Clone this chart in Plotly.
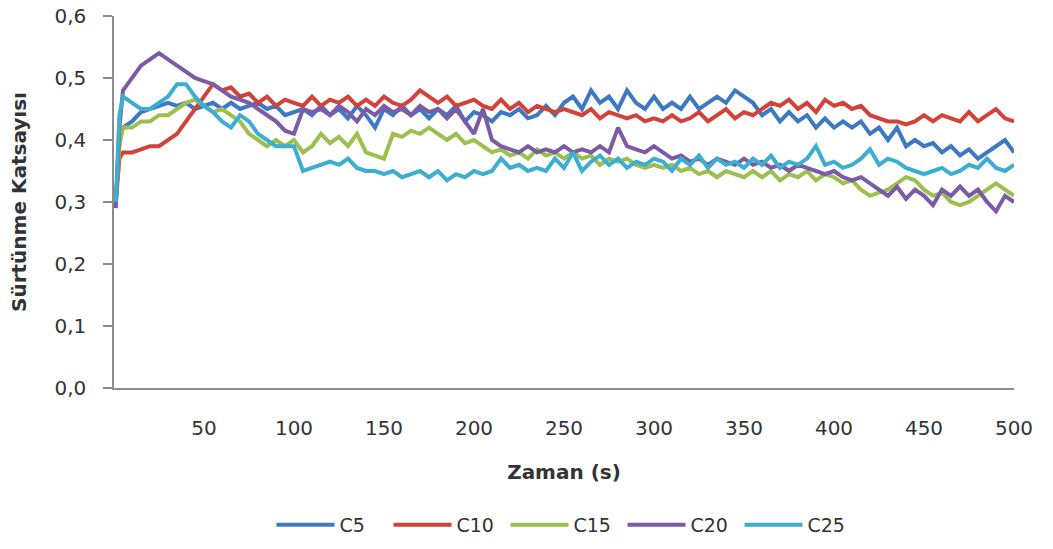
import plotly.graph_objects as go

time_s = [1, 3] + list(range(5, 501, 5))

c5 = [0.30, 0.40,
      0.42, 0.43, 0.445, 0.45, 0.455, 0.46, 0.455, 0.46, 0.45, 0.455,
      0.46, 0.45, 0.46, 0.45, 0.455, 0.46, 0.45, 0.455, 0.44, 0.445,
      0.45, 0.44, 0.455, 0.44, 0.45, 0.435, 0.455, 0.44, 0.42, 0.45,
      0.44, 0.455, 0.44, 0.45, 0.435, 0.45, 0.44, 0.455, 0.43, 0.445,
      0.44, 0.43, 0.445, 0.44, 0.45, 0.435, 0.44, 0.455, 0.44, 0.46,
      0.47, 0.45, 0.48, 0.46, 0.47, 0.45, 0.48, 0.46, 0.45, 0.47,
      0.45, 0.46, 0.45, 0.47, 0.45, 0.46, 0.47, 0.46, 0.48, 0.47,
      0.46, 0.44, 0.45, 0.43, 0.445, 0.43, 0.44, 0.42, 0.435, 0.42,
      0.43, 0.42, 0.43, 0.41, 0.42, 0.40, 0.42, 0.39, 0.40, 0.39,
      0.395, 0.38, 0.39, 0.375, 0.385, 0.37, 0.38, 0.39, 0.40, 0.38]

c10 = [0.30, 0.37,
       0.38, 0.38, 0.385, 0.39, 0.39, 0.40, 0.41, 0.43, 0.45, 0.47,
       0.49, 0.48, 0.485, 0.47, 0.475, 0.46, 0.47, 0.455, 0.465, 0.46,
       0.455, 0.47, 0.455, 0.465, 0.46, 0.47, 0.455, 0.465, 0.455, 0.47,
       0.46, 0.455, 0.465, 0.48, 0.47, 0.46, 0.47, 0.455, 0.46, 0.465,
       0.455, 0.45, 0.465, 0.45, 0.46, 0.445, 0.455, 0.45, 0.445, 0.45,
       0.445, 0.44, 0.45, 0.435, 0.445, 0.44, 0.435, 0.44, 0.43, 0.435,
       0.43, 0.44, 0.43, 0.435, 0.445, 0.43, 0.44, 0.45, 0.435, 0.445,
       0.44, 0.45, 0.46, 0.455, 0.465, 0.45, 0.46, 0.445, 0.465, 0.455,
       0.46, 0.45, 0.455, 0.44, 0.435, 0.43, 0.43, 0.425, 0.43, 0.44,
       0.43, 0.44, 0.435, 0.43, 0.445, 0.43, 0.44, 0.45, 0.435, 0.43]

c15 = [0.30, 0.39,
       0.42, 0.42, 0.43, 0.43, 0.44, 0.44, 0.45, 0.46, 0.465, 0.455,
       0.445, 0.45, 0.44, 0.43, 0.41, 0.40, 0.39, 0.40, 0.39, 0.40,
       0.38, 0.39, 0.41, 0.395, 0.405, 0.39, 0.41, 0.38, 0.375, 0.37,
       0.41, 0.405, 0.415, 0.41, 0.42, 0.41, 0.40, 0.41, 0.395, 0.40,
       0.39, 0.38, 0.385, 0.375, 0.38, 0.37, 0.385, 0.375, 0.38, 0.37,
       0.38, 0.37, 0.375, 0.36, 0.37, 0.365, 0.37, 0.36, 0.355, 0.36,
       0.355, 0.36, 0.35, 0.355, 0.345, 0.35, 0.34, 0.35, 0.345, 0.34,
       0.35, 0.34, 0.35, 0.335, 0.345, 0.34, 0.35, 0.335, 0.345, 0.34,
       0.33, 0.335, 0.32, 0.31, 0.315, 0.32, 0.33, 0.34, 0.335, 0.32,
       0.31, 0.315, 0.30, 0.295, 0.30, 0.31, 0.32, 0.33, 0.32, 0.31]

c20 = [0.29, 0.42,
       0.48, 0.50, 0.52, 0.53, 0.54, 0.53, 0.52, 0.51, 0.50, 0.495,
       0.49, 0.48, 0.47, 0.465, 0.46, 0.45, 0.44, 0.43, 0.415, 0.41,
       0.45, 0.445, 0.45, 0.44, 0.455, 0.445, 0.43, 0.45, 0.44, 0.455,
       0.445, 0.45, 0.44, 0.455, 0.445, 0.45, 0.435, 0.45, 0.43, 0.41,
       0.45, 0.40, 0.39, 0.385, 0.38, 0.39, 0.38, 0.385, 0.38, 0.39,
       0.38, 0.385, 0.38, 0.39, 0.38, 0.42, 0.39, 0.385, 0.38, 0.39,
       0.38, 0.37, 0.375, 0.365, 0.37, 0.36, 0.37, 0.365, 0.36, 0.37,
       0.36, 0.365, 0.355, 0.36, 0.35, 0.36, 0.355, 0.35, 0.345, 0.35,
       0.34, 0.335, 0.34, 0.33, 0.32, 0.31, 0.325, 0.305, 0.32, 0.31,
       0.295, 0.32, 0.31, 0.325, 0.31, 0.32, 0.30, 0.285, 0.31, 0.30]

c25 = [0.30, 0.44,
       0.47, 0.46, 0.45, 0.45, 0.46, 0.47, 0.49, 0.49, 0.47, 0.455,
       0.445, 0.43, 0.42, 0.44, 0.43, 0.41, 0.40, 0.39, 0.39, 0.39,
       0.35, 0.355, 0.36, 0.365, 0.36, 0.37, 0.355, 0.35, 0.35, 0.345,
       0.35, 0.34, 0.345, 0.35, 0.34, 0.35, 0.335, 0.345, 0.34, 0.35,
       0.345, 0.35, 0.37, 0.355, 0.36, 0.35, 0.355, 0.35, 0.37, 0.355,
       0.38, 0.35, 0.365, 0.375, 0.36, 0.37, 0.355, 0.365, 0.36, 0.37,
       0.365, 0.35, 0.37, 0.36, 0.375, 0.355, 0.37, 0.36, 0.365, 0.355,
       0.37, 0.36, 0.375, 0.355, 0.365, 0.36, 0.37, 0.39, 0.36, 0.365,
       0.355, 0.36, 0.37, 0.385, 0.36, 0.37, 0.365, 0.355, 0.35, 0.345,
       0.35, 0.355, 0.345, 0.35, 0.36, 0.355, 0.37, 0.355, 0.35, 0.36]

series_names = ["C5", "C10", "C15", "C20", "C25"]
series_values = [c5, c10, c15, c20, c25]
colors = ["#3d78c2", "#d2423a", "#9bc04f", "#7d5aa6", "#3caed0"]

x_ticks = [50, 100, 150, 200, 250, 300, 350, 400, 450, 500]
y_ticks = [0.0, 0.1, 0.2, 0.3, 0.4, 0.5, 0.6]

FONT = "DejaVu Sans"
TXT = "#333333"

fig = go.Figure()
for name, vals, col in zip(series_names, series_values, colors):
    fig.add_trace(go.Scatter(x=time_s, y=vals, mode="lines", name=name,
                             line=dict(color=col, width=4)))

fig.update_layout(
    width=1053, height=549,
    margin=dict(l=114, r=39, t=16, b=161, autoexpand=False),
    paper_bgcolor="white", plot_bgcolor="white",
    separators=",.",
    font=dict(family=FONT, size=20, color=TXT),
    showlegend=True,
    legend=dict(orientation="h", x=0.5, xanchor="center", y=-0.368, yanchor="middle",
                itemwidth=58, entrywidth=44, font=dict(size=19, color=TXT),
                traceorder="normal", tracegroupgap=0),
)
fig.update_xaxes(range=[0, 500], tickvals=x_ticks, showline=True, linecolor="#8c8c8c",
                 linewidth=1.5, showgrid=False, zeroline=False, ticks="",
                 ticklabelstandoff=21, tickfont=dict(size=20, color=TXT),
                 title=dict(text="<b>Zaman (s)</b>", font=dict(size=20, color=TXT), standoff=26))
fig.update_yaxes(range=[0, 0.6], tickvals=y_ticks, tickformat=".1f", showline=True,
                 linecolor="#8c8c8c", linewidth=1.5, showgrid=False, zeroline=False,
                 ticks="outside", ticklen=9, tickcolor="#8c8c8c", tickwidth=1.5,
                 ticklabelstandoff=13, tickfont=dict(size=20, color=TXT),
                 title=dict(text="<b>Sürtünme Katsayısı</b>", font=dict(size=20, color=TXT), standoff=22))

fig.write_html("out.html")
